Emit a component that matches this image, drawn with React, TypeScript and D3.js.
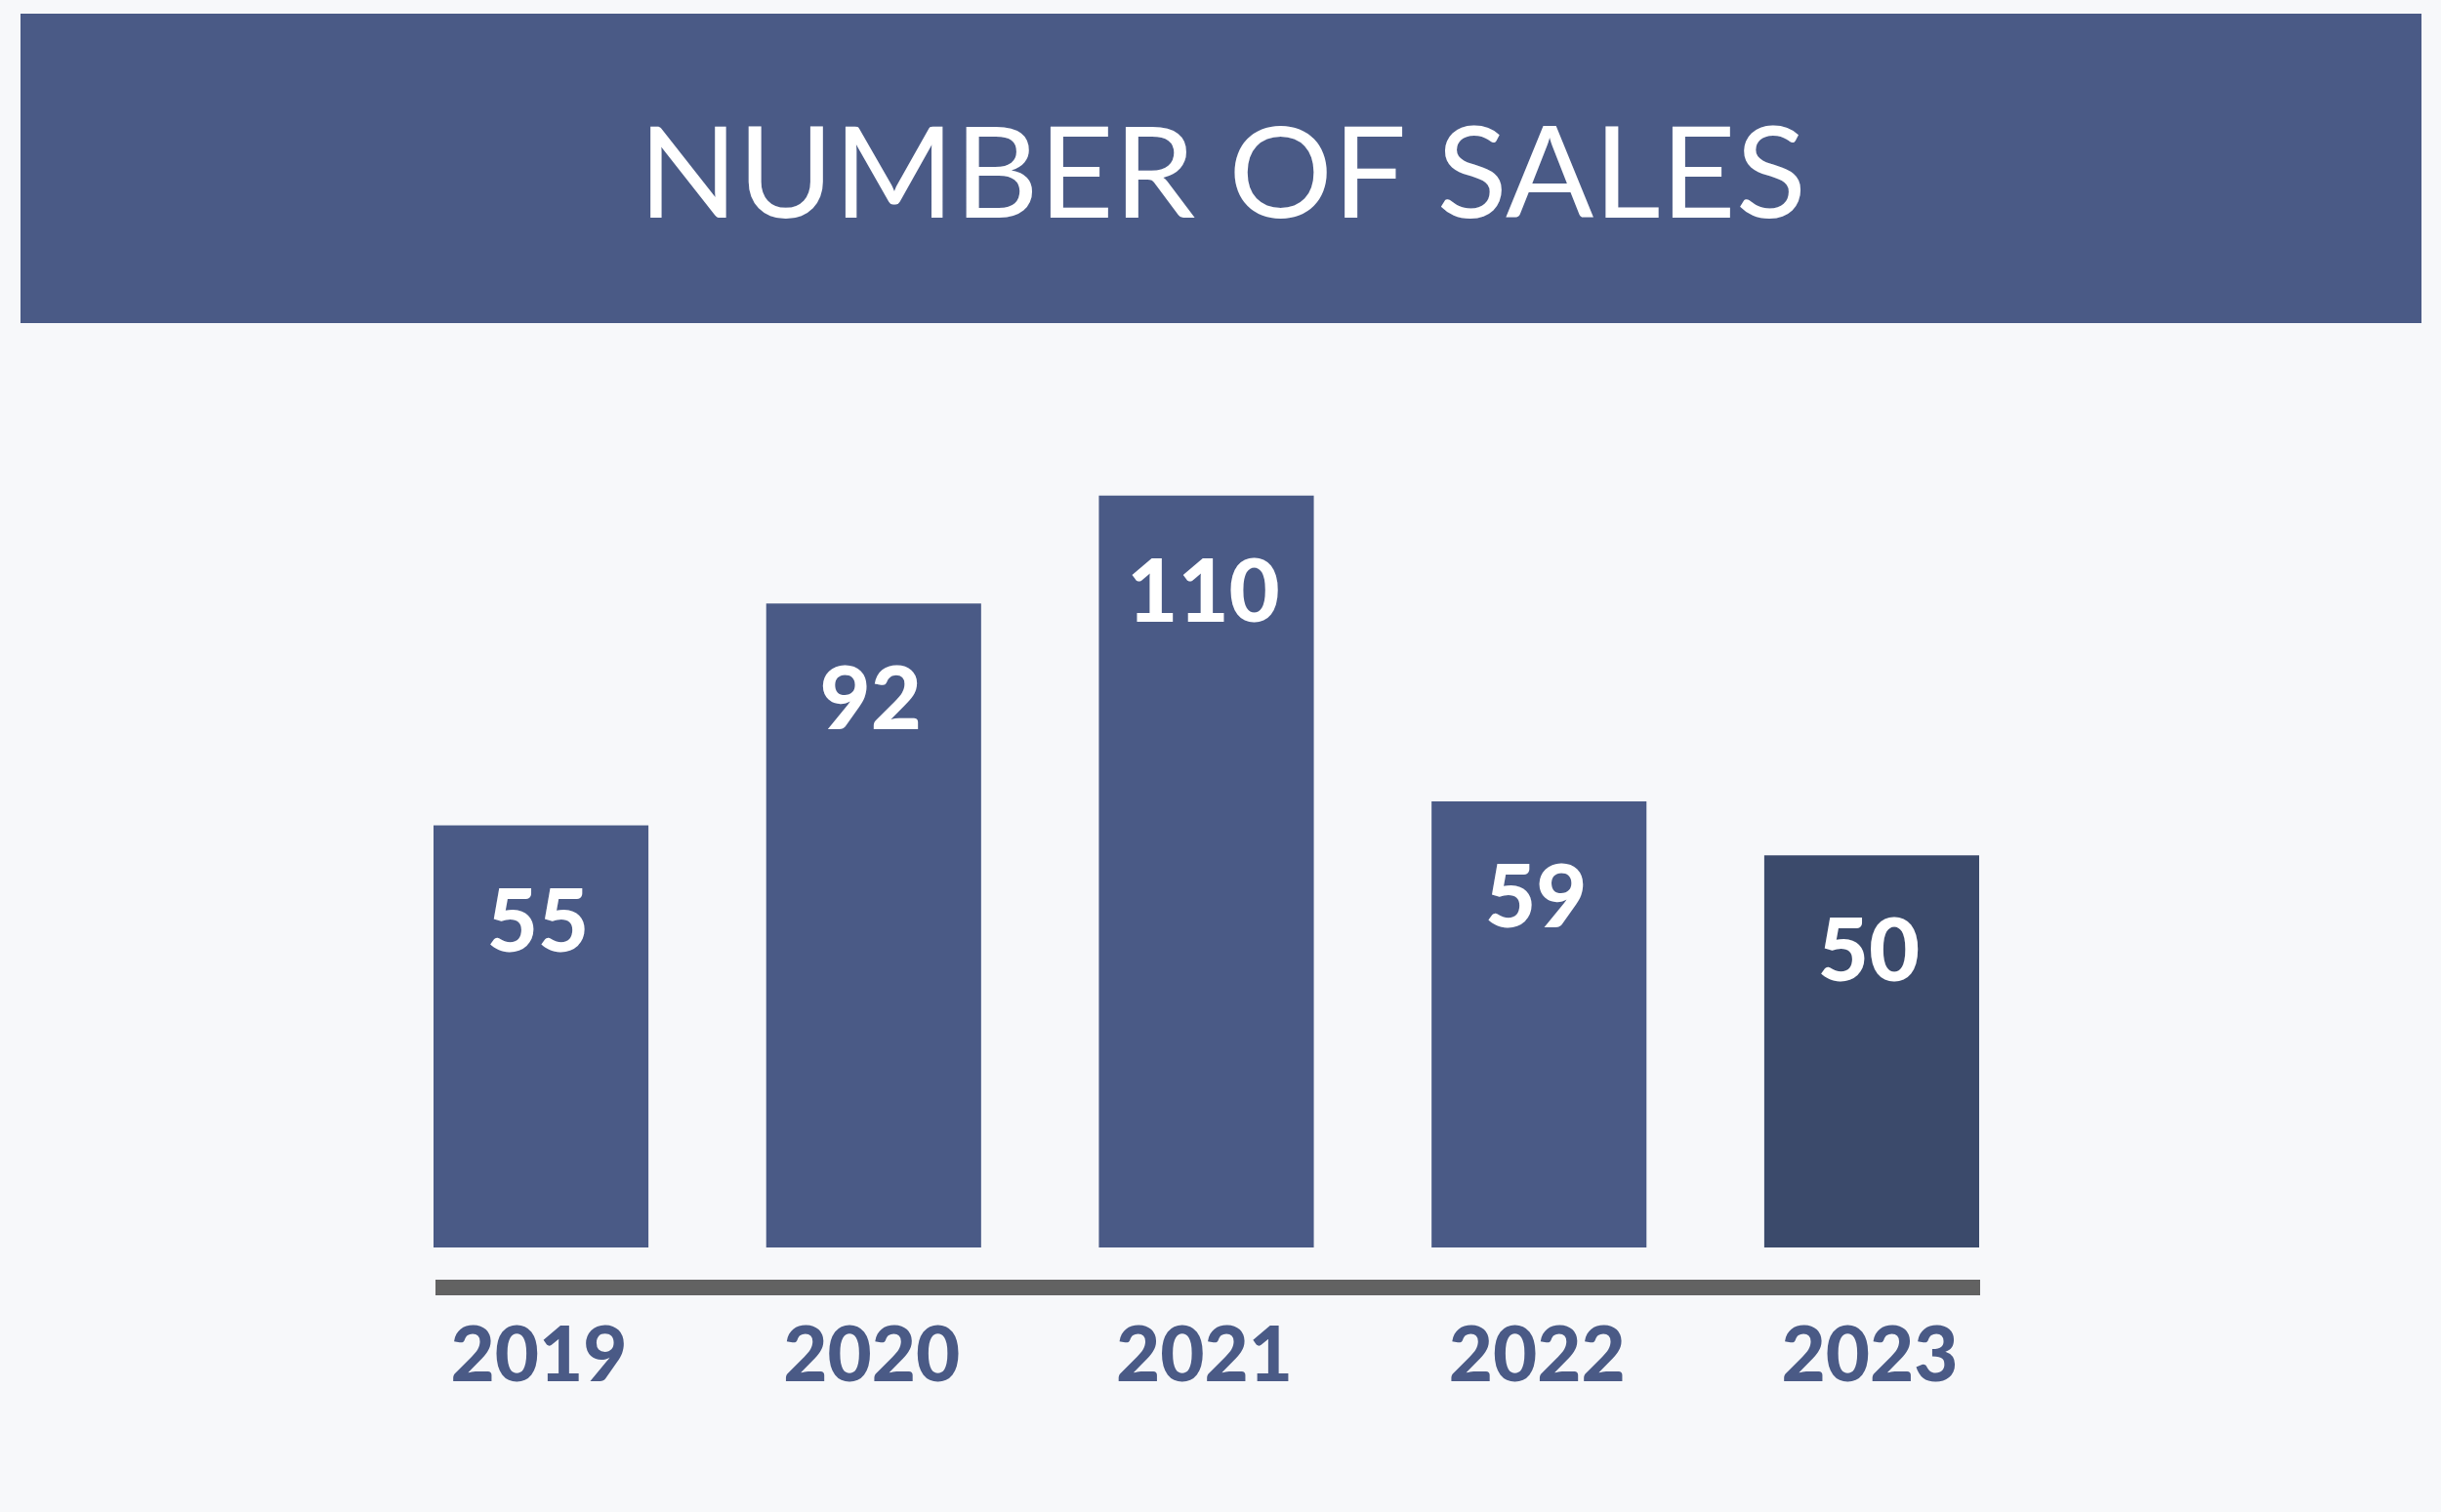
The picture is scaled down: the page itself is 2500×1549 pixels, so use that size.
import React from "react";
import * as d3 from "d3";

const years: string[] = ["2019", "2020", "2021", "2022", "2023"];
const sales: number[] = [55, 92, 110, 59, 50];
const barColors: string[] = ["#4a5a86", "#4a5a86", "#4a5a86", "#4a5a86", "#3b4a6b"];
const titleText = "NUMBER OF SALES";

const W = 2500;
const H = 1549;

export default function App() {
  const x = d3
    .scaleBand<string>()
    .domain(years)
    .range([444, 2027])
    .paddingInner(0.354)
    .paddingOuter(0);
  const y = d3.scaleLinear().domain([-15.4, 115]).range([1278, 477]);
  const bw = x.bandwidth();

  return (
    <svg
      width={W}
      height={H}
      style={{ position: "absolute", left: 0, top: 0, display: "block" }}
    >
      <rect x={0} y={0} width={W} height={H} fill="#f7f8fa" />
      <rect x={21} y={14} width={2459} height={317} fill="#4a5a86" />
      <text
        x={654}
        y={223}
        textLength={1196}
        lengthAdjust="spacingAndGlyphs"
        fill="#ffffff"
        fontFamily="Lato, 'Open Sans', sans-serif"
        fontWeight={400}
        fontSize={130}
      >
        {titleText}
      </text>
      {years.map((yr, i) => {
        const bx = x(yr)!;
        const top = y(sales[i]);
        return (
          <rect
            key={yr}
            x={bx}
            y={top}
            width={bw}
            height={y(-15.4) - top}
            fill={barColors[i]}
          />
        );
      })}
      <rect x={446} y={1311} width={1582} height={16} fill="#626262" />
      {years.map((yr, i) => {
        const cx = x(yr)! + bw / 2;
        const top = y(sales[i]);
        return (
          <g key={"l" + yr}>
            <text
              x={cx - 3}
              y={top + 129}
              textAnchor="middle"
              fill="#ffffff"
              fontFamily="Lato, sans-serif"
              fontWeight={900}
              fontSize={90}
            >
              {sales[i]}
            </text>
            <text
              x={cx - 2}
              y={1415}
              textAnchor="middle"
              fill="#4a5a86"
              fontFamily="Lato, sans-serif"
              fontWeight={900}
              fontSize={78}
            >
              {yr}
            </text>
          </g>
        );
      })}
    </svg>
  );
}
